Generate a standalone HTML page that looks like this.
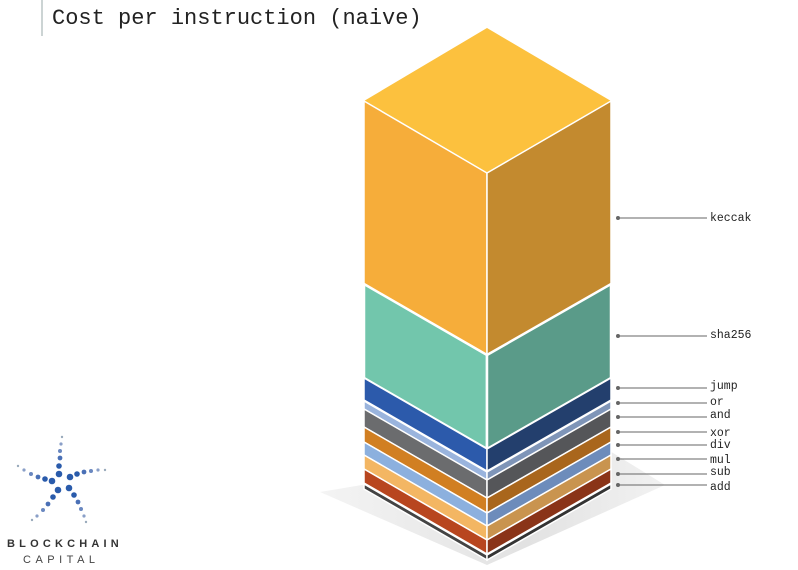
<!DOCTYPE html>
<html><head><style>
body{margin:0;width:798px;height:565px;overflow:hidden;background:#fff;font-family:"Liberation Mono",monospace;}
</style></head><body>
<svg width="798" height="565" viewBox="0 0 798 565" xmlns="http://www.w3.org/2000/svg">
<defs><linearGradient id="sh" x1="0" y1="0" x2="1" y2="0"><stop offset="0" stop-color="#f4f4f4"/><stop offset="0.6" stop-color="#e2e2e2"/><stop offset="1" stop-color="#f2f2f2"/></linearGradient></defs>
<polygon points="320,492 487,565 665,485 600,445" fill="url(#sh)"/>
<polygon points="487,28 611,101 487,173 364,101" fill="#fcc13e"/>
<g stroke="#fff" stroke-width="1.5">
<polygon points="364,101 487,173 487,355 364,284" fill="#f6ad3a"/>
<polygon points="487,173 611,101 611,284 487,355" fill="#c38a2f"/>
<polygon points="364,284 487,355 487,449 364,378" fill="#72c6ac" stroke-width="2.5"/>
<polygon points="487,355 611,284 611,378 487,449" fill="#5a9b89" stroke-width="2.5"/>
<polygon points="364,378 487,449 487,471 364,400" fill="#2c5aab"/>
<polygon points="487,449 611,378 611,400 487,471" fill="#233f6d"/>
<polygon points="364,401 487,472 487,480 364,409" fill="#9ab4dd"/>
<polygon points="487,472 611,401 611,409 487,480" fill="#7f95b8"/>
<polygon points="364,409 487,480 487,498 364,427" fill="#6b6c6e"/>
<polygon points="487,480 611,409 611,427 487,498" fill="#555659"/>
<polygon points="364,427 487,498 487,513 364,442" fill="#d17f22"/>
<polygon points="487,498 611,427 611,442 487,513" fill="#a9661c"/>
<polygon points="364,442 487,513 487,526 364,455" fill="#8cb0de"/>
<polygon points="487,513 611,442 611,455 487,526" fill="#6d8cbb"/>
<polygon points="364,455 487,526 487,540 364,469" fill="#f3b663"/>
<polygon points="487,526 611,455 611,469 487,540" fill="#c9944f"/>
<polygon points="364,469 487,540 487,554 364,483" fill="#b8461f"/>
<polygon points="487,540 611,469 611,483 487,554" fill="#8a3418"/>
<polygon points="364,484 487,555 487,560 364,489" fill="#444"/>
<polygon points="487,555 611,484 611,489 487,560" fill="#333"/>
</g>
<g stroke="#666" stroke-width="1" fill="#666">
<line x1="617" y1="218" x2="707" y2="218"/><circle cx="618" cy="218" r="1.5"/>
<line x1="617" y1="336" x2="707" y2="336"/><circle cx="618" cy="336" r="1.5"/>
<line x1="617" y1="388" x2="707" y2="388"/><circle cx="618" cy="388" r="1.5"/>
<line x1="617" y1="403" x2="707" y2="403"/><circle cx="618" cy="403" r="1.5"/>
<line x1="617" y1="417" x2="707" y2="417"/><circle cx="618" cy="417" r="1.5"/>
<line x1="617" y1="432" x2="707" y2="432"/><circle cx="618" cy="432" r="1.5"/>
<line x1="617" y1="445" x2="707" y2="445"/><circle cx="618" cy="445" r="1.5"/>
<line x1="617" y1="459" x2="707" y2="459"/><circle cx="618" cy="459" r="1.5"/>
<line x1="617" y1="474" x2="707" y2="474"/><circle cx="618" cy="474" r="1.5"/>
<line x1="617" y1="485" x2="707" y2="485"/><circle cx="618" cy="485" r="1.5"/>
</g>
<g font-family="Liberation Mono, monospace" font-size="11.5" fill="#222">
<text x="710" y="221">keccak</text>
<text x="710" y="338">sha256</text>
<text x="710" y="389">jump</text>
<text x="710" y="405">or</text>
<text x="710" y="418">and</text>
<text x="710" y="436">xor</text>
<text x="710" y="448">div</text>
<text x="710" y="463">mul</text>
<text x="710" y="475">sub</text>
<text x="710" y="490">add</text>
</g>
<line x1="42" y1="0" x2="42" y2="36" stroke="#9aa" stroke-width="1"/>
<text x="52" y="24" font-family="Liberation Mono, monospace" font-size="22" fill="#222">Cost per instruction (naive)</text>
<g fill="#2a5bab">
<circle cx="59" cy="474" r="3.3"/><circle cx="59" cy="466" r="2.8"/><circle cx="60" cy="458" r="2.4" fill="#4a70b6"/><circle cx="60" cy="451" r="2" fill="#6a88c0"/><circle cx="61" cy="444" r="1.6" fill="#8a9fc8"/><circle cx="62" cy="437" r="1.2" fill="#9ab"/>
<circle cx="70" cy="477" r="3.3"/><circle cx="77" cy="474" r="2.8"/><circle cx="84" cy="472" r="2.4" fill="#4a70b6"/><circle cx="91" cy="471" r="2" fill="#6a88c0"/><circle cx="98" cy="470" r="1.6" fill="#8a9fc8"/><circle cx="105" cy="470" r="1.2" fill="#9ab"/>
<circle cx="52" cy="481" r="3.3"/><circle cx="45" cy="479" r="2.8"/><circle cx="38" cy="477" r="2.4" fill="#4a70b6"/><circle cx="31" cy="474" r="2" fill="#6a88c0"/><circle cx="24" cy="470" r="1.6" fill="#8a9fc8"/><circle cx="18" cy="466" r="1.2" fill="#9ab"/>
<circle cx="58" cy="490" r="3.3"/><circle cx="53" cy="497" r="2.8"/><circle cx="48" cy="504" r="2.4" fill="#4a70b6"/><circle cx="43" cy="510" r="2" fill="#6a88c0"/><circle cx="37" cy="516" r="1.6" fill="#8a9fc8"/><circle cx="32" cy="520" r="1.2" fill="#9ab"/>
<circle cx="69" cy="488" r="3.3"/><circle cx="74" cy="495" r="2.8"/><circle cx="78" cy="502" r="2.4" fill="#4a70b6"/><circle cx="81" cy="509" r="2" fill="#6a88c0"/><circle cx="84" cy="516" r="1.6" fill="#8a9fc8"/><circle cx="86" cy="522" r="1.2" fill="#9ab"/>
</g>
<text x="7" y="547" font-family="Liberation Sans, sans-serif" font-weight="bold" font-size="11" letter-spacing="4.2" fill="#333">BLOCKCHAIN</text>
<text x="23" y="563" font-family="Liberation Sans, sans-serif" font-size="11" letter-spacing="4.5" fill="#444">CAPITAL</text>
</svg>
</body></html>
